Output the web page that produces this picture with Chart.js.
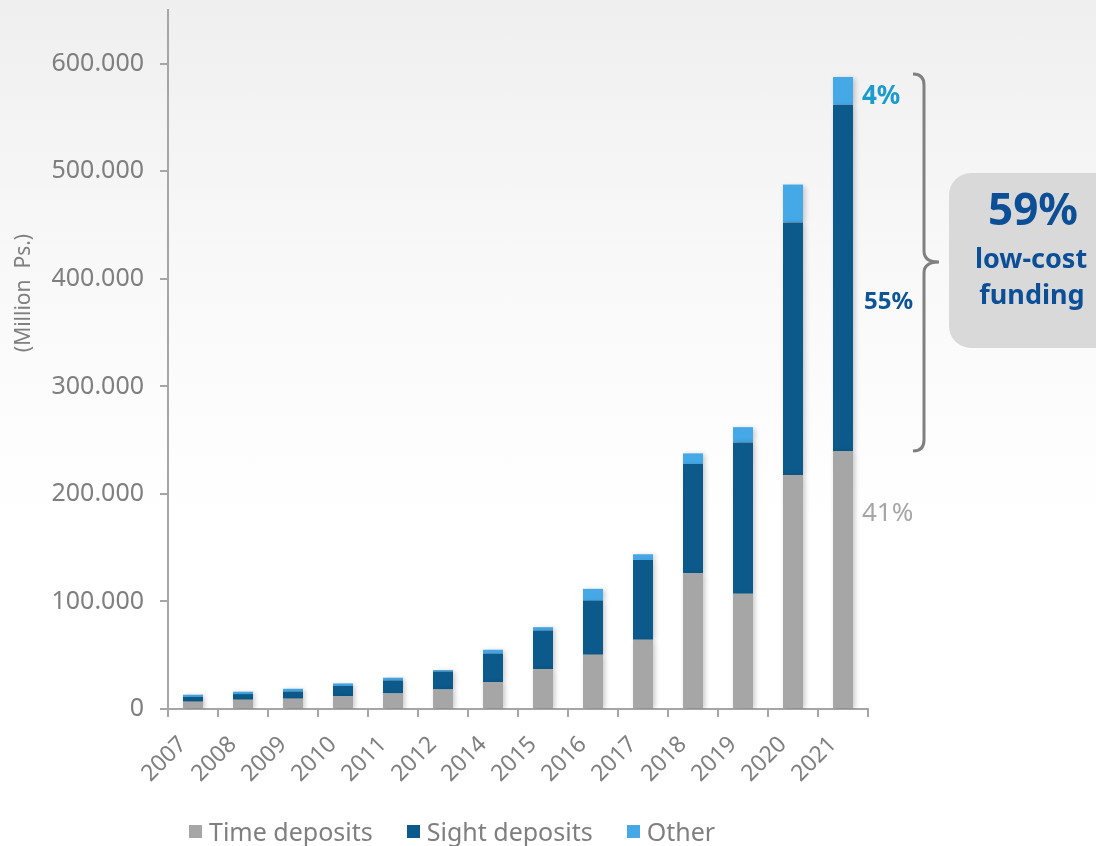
<!DOCTYPE html>
<html>
<head>
<meta charset="utf-8">
<title>Deposits by type</title>
<script src="https://cdn.jsdelivr.net/npm/chart.js@4/dist/chart.umd.min.js"></script>
<style>
  html, body { margin: 0; padding: 0; }
  body {
    width: 1096px; height: 846px; overflow: hidden; position: relative;
    background: linear-gradient(#efefef 0px, #f8f8f8 250px, #ffffff 520px);
    font-family: "Noto Sans", sans-serif;
  }
  #chart { position: absolute; left: 0; top: 0; }
  #legend {
    position: absolute; left: 189px; top: 814px;
    display: flex; align-items: center; font-size: 25px; color: #7f7f7f;
  }
  #legend .item { display: flex; align-items: center; margin-right: 34px; }
  #legend .box { width: 13px; height: 13px; margin-right: 7px; }
</style>
</head>
<body>
<canvas id="chart" width="1096" height="846"></canvas>
<div id="legend"></div>
<script>
// =====================================================
// DATA (million Ps.)
// =====================================================
const years = ['2007','2008','2009','2010','2011','2012','2014','2015','2016','2017','2018','2019','2020','2021'];
const timeDeposits  = [6800, 8600, 9600, 12100, 14500, 18200, 25100, 37100, 50400, 64300, 126300, 107100, 217300, 239800];
const sightDeposits = [4600, 5300, 6700, 9300, 12100, 16700, 26500, 35900, 50400, 74300, 101500, 140800, 235200, 322200];
const otherDeposits = [1900, 2200, 2500, 2400, 2500, 1300, 3500, 3100, 10900, 5300, 9900, 14200, 35200, 25700];
const yTicks = [0, 100000, 200000, 300000, 400000, 500000, 600000];
const yMax = 650000;

const GREY = '#a6a6a6';
const NAVY = '#0c5a8b';
const SKY = '#45a8e7';
const TEXT = '#7f7f7f';

function fmtThousands(v) {
    return String(v).replace(/\B(?=(\d{3})+(?!\d))/g, '.');
}

// share of the last year's total, rounded to whole percent
const last = years.length - 1;
const lastTotal = timeDeposits[last] + sightDeposits[last] + otherDeposits[last];
const pct = v => Math.round(v / lastTotal * 100) + '%';

// =====================================================
// PLUGINS
// =====================================================
const barShadow = {
    id: 'barShadow',
    beforeDatasetsDraw(chart) {
        const ctx = chart.ctx;
        ctx.save();
        ctx.shadowColor = 'rgba(0,0,0,0.22)';
        ctx.shadowBlur = 5;
        ctx.shadowOffsetX = 2;
        ctx.shadowOffsetY = 1;
    },
    afterDatasetsDraw(chart) { chart.ctx.restore(); }
};

// right-hand notes: shares, brace and the low-cost box
const sideNotes = {
    id: 'sideNotes',
    afterDraw(chart) {
        const ctx = chart.ctx;
        ctx.save();

        // y axis title
        ctx.translate(24, 293);
        ctx.rotate(-Math.PI / 2);
        ctx.fillStyle = TEXT;
        ctx.font = '21px "Noto Sans"';
        ctx.textAlign = 'center';
        ctx.textBaseline = 'middle';
        ctx.fillText('(Million  Ps.)', 0, 0);
        ctx.setTransform(1, 0, 0, 1, 0, 0);

        ctx.textAlign = 'left';
        ctx.textBaseline = 'alphabetic';
        ctx.font = 'bold 26px "Noto Sans"';
        ctx.fillStyle = '#1b9ccc';
        ctx.fillText(pct(otherDeposits[last]), 862, 104);
        ctx.font = 'bold 24px "Noto Sans"';
        ctx.fillStyle = '#0d5596';
        ctx.fillText(pct(sightDeposits[last]), 864, 309);
        ctx.font = '26px "Noto Sans"';
        ctx.fillStyle = GREY;
        ctx.fillText(pct(timeDeposits[last]), 862, 521);

        // curly brace
        const x = 924, top = 74, bot = 451, mid = 262, r = 11;
        ctx.strokeStyle = '#808080';
        ctx.lineWidth = 3;
        ctx.beginPath();
        ctx.moveTo(x - r, top);
        ctx.quadraticCurveTo(x, top, x, top + r);
        ctx.lineTo(x, mid - r);
        ctx.quadraticCurveTo(x, mid, x + 15, mid);
        ctx.quadraticCurveTo(x, mid, x, mid + r);
        ctx.lineTo(x, bot - r);
        ctx.quadraticCurveTo(x, bot, x - r, bot);
        ctx.stroke();

        // rounded box
        const bx = 949, by = 173, bw = 170, bh = 175, br = 22;
        ctx.fillStyle = '#d9d9d9';
        ctx.beginPath();
        ctx.roundRect(bx, by, bw, bh, br);
        ctx.fill();

        const lowCost = Math.round((sightDeposits[last] + otherDeposits[last]) / lastTotal * 100) + '%';
        ctx.fillStyle = '#0d4f96';
        ctx.textAlign = 'center';
        ctx.font = 'bold 44px "Noto Sans"';
        ctx.fillText(lowCost, 1033, 225);
        ctx.font = 'bold 27px "Noto Sans"';
        ctx.fillText('low-cost', 1031, 268);
        ctx.fillText('funding', 1032, 304);
        ctx.restore();
    }
};

// =====================================================
// CHART
// =====================================================
const chart = new Chart(document.getElementById('chart'), {
    type: 'bar',
    data: {
        labels: years,
        datasets: [
            { label: 'Time deposits', data: timeDeposits, backgroundColor: GREY },
            { label: 'Sight deposits', data: sightDeposits, backgroundColor: NAVY },
            { label: 'Other', data: otherDeposits, backgroundColor: SKY }
        ]
    },
    options: {
        responsive: false,
        animation: false,
        layout: { padding: { top: 10, right: 228, bottom: 0, left: 0 } },
        datasets: { bar: { categoryPercentage: 1, barPercentage: 0.4 } },
        plugins: { legend: { display: false }, tooltip: { enabled: false } },
        scales: {
            x: {
                stacked: true,
                afterFit(scale) { scale.height = 137; scale.paddingLeft = 0; scale.paddingRight = 0; },
                border: { color: GREY, width: 2 },
                grid: { drawOnChartArea: false, color: GREY, lineWidth: 2, tickLength: 8, offset: true },
                ticks: {
                    color: TEXT, font: { family: 'Noto Sans', size: 23 },
                    minRotation: 45, maxRotation: 45, padding: 14, labelOffset: -10, autoSkip: false
                }
            },
            y: {
                stacked: true,
                min: 0, max: yMax,
                afterFit(scale) { scale.width = 168; scale.paddingTop = 0; scale.paddingBottom = 0; },
                afterBuildTicks(scale) { scale.ticks = yTicks.map(v => ({ value: v })); },
                border: { color: GREY, width: 2 },
                grid: { drawOnChartArea: false, color: GREY, lineWidth: 2, tickLength: 8 },
                ticks: {
                    color: TEXT, font: { family: 'Noto Sans', size: 25 }, padding: 16,
                    callback: v => fmtThousands(v)
                }
            }
        }
    },
    plugins: [barShadow, sideNotes]
});

// html legend from the datasets
const legendEl = document.getElementById('legend');
chart.data.datasets.forEach(ds => {
    legendEl.innerHTML += `<div class="item"><span class="box" style="background:${ds.backgroundColor}"></span><span>${ds.label}</span></div>`;
});
</script>
</body>
</html>
